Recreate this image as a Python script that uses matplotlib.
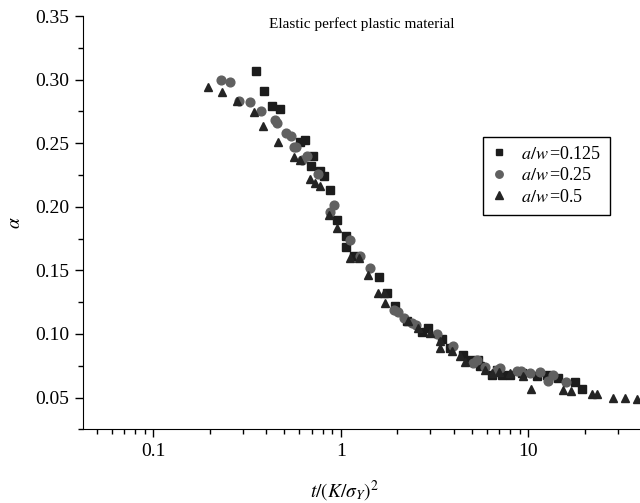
import matplotlib
matplotlib.use("Agg")
import matplotlib.pyplot as plt
from matplotlib.ticker import LogLocator, MultipleLocator, FixedLocator, FixedFormatter, NullFormatter

plt.rcParams["font.family"] = ["Liberation Serif", "DejaVu Serif"]
plt.rcParams["mathtext.fontset"] = "stix"

# a/w = 0.125 (squares)
sq_t = [0.355, 0.390, 0.428, 0.474, 0.610, 0.643, 0.713, 0.698, 0.780, 0.812,
        0.874, 0.957, 1.072, 1.072, 1.172, 1.607, 1.765, 1.954, 2.25, 2.710,
        2.928, 3.46, 3.83, 4.51, 4.90, 5.42, 5.53, 6.39, 6.79, 7.22,
        8.00, 9.3, 11.17, 12.53, 14.45, 17.71, 19.3]
sq_alpha = [0.307, 0.291, 0.279, 0.277, 0.251, 0.2526, 0.240, 0.232, 0.228, 0.2244,
            0.2134, 0.1894, 0.1768, 0.168, 0.161, 0.1446, 0.1319, 0.1219, 0.110, 0.1018,
            0.1047, 0.0963, 0.089, 0.0838, 0.0798, 0.0798, 0.0746, 0.0681, 0.072, 0.0681,
            0.0681, 0.069, 0.0667, 0.0681, 0.0655, 0.062, 0.0568]

# a/w = 0.25 (circles)
ci_t = [0.231, 0.257, 0.287, 0.328, 0.374, 0.444, 0.455, 0.514, 0.540, 0.567,
        0.581, 0.623, 0.659, 0.755, 0.874, 0.918, 1.126, 1.262, 1.439, 1.914,
        2.01, 2.18, 2.40, 2.53, 3.26, 3.99, 5.10, 5.32, 5.89, 6.79,
        7.07, 8.67, 9.2, 10.2, 11.5, 12.8, 13.5, 16.0]
ci_alpha = [0.2997, 0.298, 0.2835, 0.2822, 0.2754, 0.2683, 0.2662, 0.2584, 0.2558, 0.2474,
            0.2469, 0.2369, 0.240, 0.2257, 0.1963, 0.2016, 0.1741, 0.1616, 0.1516, 0.1191,
            0.1172, 0.1126, 0.1087, 0.1074, 0.1003, 0.0909, 0.0773, 0.0798, 0.0744, 0.072,
            0.0733, 0.0707, 0.071, 0.0694, 0.070, 0.0628, 0.068, 0.062]

# a/w = 0.5 (triangles)
tr_t = [0.195, 0.232, 0.281, 0.344, 0.387, 0.462, 0.562, 0.605, 0.684, 0.734,
        0.780, 0.863, 0.957, 1.126, 1.247, 1.399, 1.574, 1.693, 1.718, 2.3,
        2.6, 3.0, 3.39, 3.39, 3.91, 4.33, 4.60, 5.89, 6.39, 7.0,
        8.0, 9.40, 10.3, 15.35, 17.0, 21.9, 23.4, 28.3, 32.9, 38.1]
tr_alpha = [0.2945, 0.2906, 0.2835, 0.2749, 0.2636, 0.2508, 0.2389, 0.2369, 0.2218, 0.2191,
            0.2165, 0.1937, 0.1833, 0.1597, 0.1597, 0.1461, 0.1321, 0.1321, 0.1244, 0.110,
            0.105, 0.101, 0.0948, 0.0890, 0.0864, 0.0825, 0.0779, 0.0720, 0.0694, 0.070,
            0.069, 0.0667, 0.0568, 0.0563, 0.0550, 0.0524, 0.0524, 0.0498, 0.0498, 0.0492]

y_ticks = [0.05, 0.10, 0.15, 0.20, 0.25, 0.30, 0.35]
x_ticks = [0.1, 1, 10]
x_tick_labels = ["0.1", "1", "10"]

fig = plt.figure(figsize=(6.4, 5.03), dpi=100)
ax = fig.add_axes([0.129, 0.1465, 0.871, 0.8215])

ax.plot(sq_t, sq_alpha, ls="none", marker="s", ms=5.8, color="#1c1c1c",
        label=r"$a/w\,$=0.125")
ax.plot(ci_t, ci_alpha, ls="none", marker="o", ms=6.3, color="#606060",
        label=r"$a/w\,$=0.25")
ax.plot(tr_t, tr_alpha, ls="none", marker="^", ms=6.3, color="#242424",
        label=r"$a/w\,$=0.5")

ax.set_xscale("log")
ax.set_xlim(0.042, 39.5)
ax.set_ylim(0.025, 0.35)

ax.xaxis.set_major_locator(FixedLocator(x_ticks))
ax.xaxis.set_major_formatter(FixedFormatter(x_tick_labels))
ax.xaxis.set_minor_locator(LogLocator(base=10, subs=range(2, 10)))
ax.xaxis.set_minor_formatter(NullFormatter())
ax.set_yticks(y_ticks)
ax.set_yticklabels([f"{v:.2f}" for v in y_ticks])
ax.yaxis.set_minor_locator(MultipleLocator(0.025))

ax.spines["top"].set_visible(False)
ax.spines["right"].set_visible(False)
ax.tick_params(which="major", direction="out", length=6, width=1, labelsize=14)
ax.tick_params(which="minor", direction="out", length=3.5, width=1)

ax.set_xlabel(r"$t/(K/\sigma_Y)^2$", fontsize=14)
ax.xaxis.set_label_coords(0.47, -0.12)
ax.set_ylabel(r"$\alpha$", fontsize=14, labelpad=8)

ax.text(0.5, 0.998, "Elastic perfect plastic material", transform=ax.transAxes,
        ha="center", va="top", fontsize=11)

leg = ax.legend(loc="upper right", bbox_to_anchor=(0.962, 0.73), fontsize=13,
                fancybox=False, edgecolor="black", framealpha=1,
                handlelength=0.8, handletextpad=0.8, borderpad=0.5,
                labelspacing=0.25, markerscale=0.85)
leg.get_frame().set_linewidth(1)

fig.savefig("out.png", dpi=100)
